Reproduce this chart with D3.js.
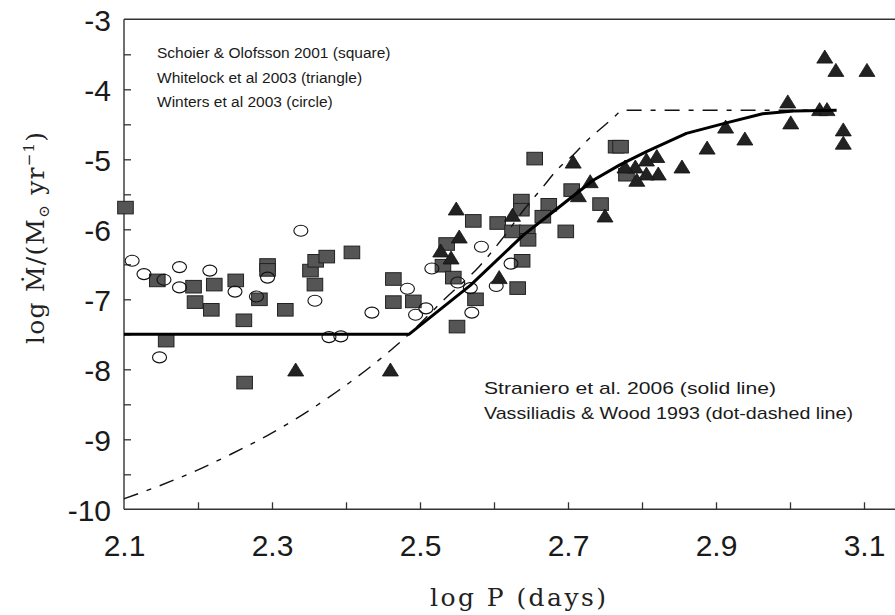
<!DOCTYPE html>
<html><head><meta charset="utf-8">
<script src="https://cdn.jsdelivr.net/npm/d3@7"></script>
<style>body{margin:0;background:#fff}</style>
</head><body>
<svg id="c" width="895" height="615"></svg>
<script>
// ---- data ----
const squareData = [[2.102,-5.69],[2.145,-6.73],[2.194,-6.82],[2.196,-7.04],[2.222,-6.79],[2.218,-7.15],[2.157,-7.59],[2.251,-6.73],[2.262,-7.30],[2.263,-8.19],[2.283,-7.00],[2.294,-6.51],[2.294,-6.58],[2.318,-7.15],[2.352,-6.59],[2.359,-6.45],[2.374,-6.39],[2.358,-6.79],[2.408,-6.33],[2.464,-6.71],[2.464,-7.04],[2.572,-5.88],[2.637,-5.59],[2.637,-5.72],[2.605,-5.91],[2.674,-5.65],[2.666,-5.82],[2.705,-5.44],[2.744,-5.64],[2.697,-6.03],[2.625,-6.03],[2.645,-6.03],[2.646,-6.15],[2.536,-6.21],[2.638,-6.45],[2.531,-6.52],[2.545,-6.69],[2.632,-6.84],[2.575,-7.00],[2.491,-7.03],[2.550,-7.39],[2.655,-4.99],[2.765,-4.82],[2.771,-4.82],[2.779,-5.22]];
const circleData = [[2.111,-6.45],[2.127,-6.64],[2.154,-6.72],[2.175,-6.54],[2.175,-6.83],[2.216,-6.59],[2.148,-7.83],[2.250,-6.89],[2.279,-6.96],[2.294,-6.69],[2.339,-6.02],[2.358,-7.02],[2.377,-7.54],[2.393,-7.53],[2.435,-7.19],[2.583,-6.25],[2.623,-6.49],[2.516,-6.56],[2.603,-6.81],[2.483,-6.85],[2.551,-6.76],[2.568,-6.84],[2.508,-7.13],[2.494,-7.22],[2.570,-7.19]];
const triangleData = [[2.332,-8.01],[2.460,-8.01],[2.549,-5.71],[2.625,-5.80],[2.714,-5.52],[2.730,-5.32],[2.750,-5.81],[2.553,-6.11],[2.528,-6.31],[2.542,-6.41],[2.607,-6.69],[3.047,-3.54],[3.062,-3.73],[3.104,-3.73],[2.997,-4.18],[3.001,-4.48],[3.040,-4.29],[3.050,-4.29],[3.072,-4.58],[3.072,-4.77],[2.939,-4.71],[2.913,-4.54],[2.888,-4.84],[2.854,-5.11],[2.820,-4.96],[2.822,-5.21],[2.806,-5.21],[2.793,-5.30],[2.791,-5.11],[2.806,-5.01],[2.777,-5.11],[2.707,-5.04]];
const stranieroLine = [[2.1,-7.5],[2.485,-7.5],[2.568,-6.80],[2.640,-6.08],[2.680,-5.75],[2.734,-5.30],[2.770,-5.08],[2.806,-4.89],[2.860,-4.63],[2.914,-4.48],[2.963,-4.35],[3.005,-4.31],[3.063,-4.30]];
const vwLine = [[2.1,-9.85],[2.149,-9.66],[2.197,-9.45],[2.245,-9.21],[2.293,-8.95],[2.341,-8.65],[2.389,-8.31],[2.437,-7.93],[2.485,-7.5],[2.533,-7.0],[2.581,-6.52],[2.610,-6.15],[2.642,-5.70],[2.665,-5.41],[2.687,-5.13],[2.707,-4.94],[2.727,-4.72],[2.750,-4.51],[2.764,-4.38],[2.773,-4.30],[3.063,-4.30]];
const xTickLabels = [2.1,2.3,2.5,2.7,2.9,3.1];
const xMinorTicks = [2.2,2.3,2.4,2.5,2.6,2.7,2.8,2.9,3.0,3.1];
const yTickLabels = [-3,-4,-5,-6,-7,-8,-9,-10];
const yMinorTicks = [-3.5,-4,-4.5,-5,-5.5,-6,-6.5,-7,-7.5,-8,-8.5,-9,-9.5];
const legendTop = ["Schoier & Olofsson 2001 (square)","Whitelock et al 2003 (triangle)","Winters et al 2003 (circle)"];
const legendBottom = ["Straniero et al. 2006 (solid line)","Vassiliadis & Wood 1993 (dot-dashed line)"];

// ---- layout ----
const svg = d3.select("#c");
const L = 124, T = 19.3, B = 509.3, R = 895;
const x = d3.scaleLinear().domain([2.1, 3.1]).range([L, 864]);
const xEnd = x.invert(R);
const y = d3.scaleLinear().domain([-3, -10]).range([T, B]);
const ink = "#1a1a1a";

// frame
const frame = svg.append("g").attr("stroke", "#333").attr("stroke-width", 1.4).attr("fill", "none");
frame.append("line").attr("x1", x(2.1)).attr("x2", x(xEnd)).attr("y1", y(-3)).attr("y2", y(-3));
frame.append("line").attr("x1", x(2.1)).attr("x2", x(xEnd)).attr("y1", y(-10)).attr("y2", y(-10));
frame.append("line").attr("x1", x(2.1)).attr("x2", x(2.1)).attr("y1", y(-3)).attr("y2", y(-10));

// inward ticks
const xTickAxis = d3.axisBottom(x).tickValues(xMinorTicks).tickSizeInner(-7).tickSizeOuter(0).tickFormat("");
const gx = svg.append("g").attr("transform", `translate(0,${B})`).call(xTickAxis);
gx.select(".domain").remove();
gx.selectAll(".tick line").attr("stroke", "#333").attr("stroke-width", 1.3);

const yTickAxis = d3.axisLeft(y).tickValues(yMinorTicks).tickSizeInner(-7).tickSizeOuter(0).tickFormat("");
const gy = svg.append("g").attr("transform", `translate(${L},0)`).call(yTickAxis);
gy.select(".domain").remove();
gy.selectAll(".tick line").attr("stroke", "#333").attr("stroke-width", 1.3);

// tick labels
const xLab = d3.axisBottom(x).tickValues(xTickLabels).tickSize(0).tickPadding(0).tickFormat(d3.format(".1f"));
const gxl = svg.append("g").attr("transform", `translate(0,${B})`).call(xLab);
gxl.select(".domain").remove();
gxl.selectAll("text").attr("dy", null).attr("y", 47).attr("font-family", "Liberation Sans, Arial, sans-serif")
  .attr("font-size", 30).attr("fill", ink);

const yLab = d3.axisLeft(y).tickValues(yTickLabels).tickSize(0).tickPadding(0).tickFormat(d => d3.format("d")(d).replace("−","-"));
const gyl = svg.append("g").attr("transform", `translate(${L},0)`).call(yLab);
gyl.select(".domain").remove();
gyl.selectAll("text").attr("dy", "0.36em").attr("x", -13).attr("font-family", "Liberation Sans, Arial, sans-serif")
  .attr("font-size", 30).attr("fill", ink);

// markers
svg.append("g").selectAll("rect").data(squareData).join("rect")
  .attr("x", d => x(d[0]) - 7.8).attr("y", d => y(d[1]) - 6.3)
  .attr("width", 15.6).attr("height", 12.6)
  .attr("fill", "#555").attr("stroke", "#222").attr("stroke-width", 1);

svg.append("g").selectAll("ellipse").data(circleData).join("ellipse")
  .attr("cx", d => x(d[0])).attr("cy", d => y(d[1]))
  .attr("rx", 7).attr("ry", 5.5)
  .attr("fill", "none").attr("stroke", "#111").attr("stroke-width", 1.1);

svg.append("g").selectAll("path").data(triangleData).join("path")
  .attr("d", d => `M${x(d[0])},${y(d[1]) - 7}L${x(d[0]) + 8},${y(d[1]) + 6}L${x(d[0]) - 8},${y(d[1]) + 6}Z`)
  .attr("fill", "#222").attr("stroke", "#111").attr("stroke-width", 0.8);

// lines
svg.append("path").datum(vwLine)
  .attr("d", d3.line().x(d => x(d[0])).y(d => y(d[1])).curve(d3.curveMonotoneX))
  .attr("fill", "none").attr("stroke", "#111").attr("stroke-width", 1.4).attr("stroke-dasharray", "15,9,5,9");
svg.append("path").datum(stranieroLine)
  .attr("d", d3.line().x(d => x(d[0])).y(d => y(d[1])))
  .attr("fill", "none").attr("stroke", "#000").attr("stroke-width", 3).attr("stroke-linejoin", "round");

// legend texts
svg.append("g").selectAll("text").data(legendTop).join("text")
  .attr("x", 157).attr("y", (d, i) => 58 + i * 24.5)
  .attr("font-family", "Liberation Sans, Arial, sans-serif").attr("font-size", 15.5).attr("fill", ink)
  .text(d => d);

const bottomLens = [292, 369];
svg.append("g").selectAll("text").data(legendBottom).join("text")
  .attr("x", 484).attr("y", (d, i) => 394 + i * 25)
  .attr("font-family", "Liberation Sans, Arial, sans-serif").attr("font-size", 17).attr("fill", ink)
  .attr("textLength", (d, i) => bottomLens[i]).attr("lengthAdjust", "spacingAndGlyphs")
  .text(d => d);

// axis titles
svg.append("text").attr("x", 430).attr("y", 606)
  .attr("font-family", "DejaVu Serif, serif").attr("font-size", 25).attr("fill", "#222")
  .attr("textLength", 176).attr("lengthAdjust", "spacing")
  .text("log P (days)");

const yt = svg.append("text").attr("transform", "translate(44,238) rotate(-90)")
  .attr("text-anchor", "middle")
  .attr("textLength", 212).attr("lengthAdjust", "spacing")
  .attr("font-family", "DejaVu Serif, serif").attr("font-size", 25).attr("fill", "#222");
yt.append("tspan").text("log Ṁ/(M");
yt.append("tspan").attr("font-size", 15).attr("dy", 5).text("⊙");
yt.append("tspan").attr("dy", -5).text(" yr");
yt.append("tspan").attr("font-size", 15).attr("dy", -10).text("−1");
yt.append("tspan").attr("dy", 10).text(")");
</script>
</body></html>
